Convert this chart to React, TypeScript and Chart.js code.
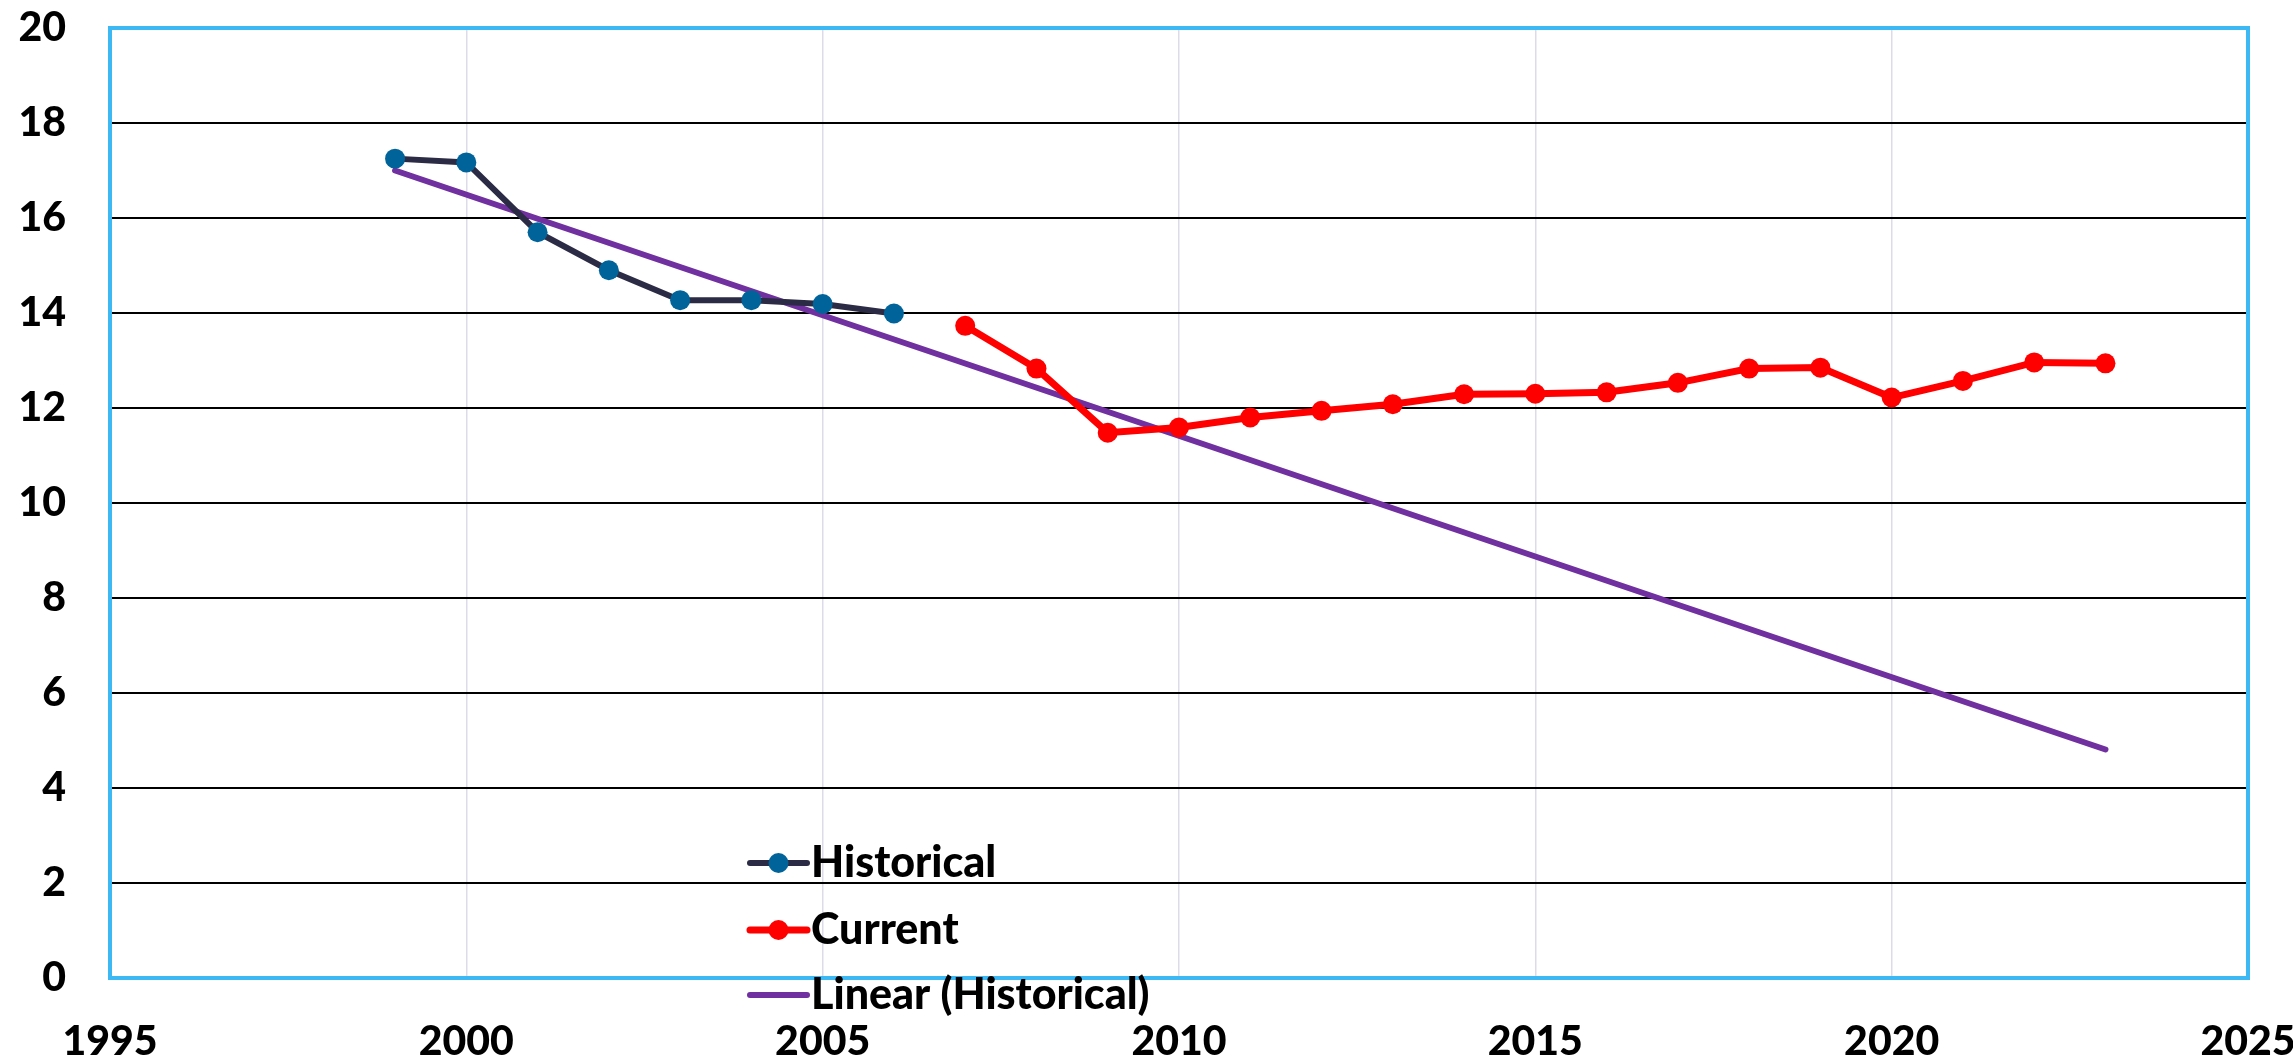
import React, { useEffect, useRef } from "react";
import { Chart, registerables } from "chart.js";

Chart.register(...registerables);

// ---- Data ----
const historicalYears = [1999, 2000, 2001, 2002, 2003, 2004, 2005, 2006];
const historicalValues = [17.25, 17.17, 15.7, 14.9, 14.27, 14.27, 14.19, 13.99];

const currentYears = [2007, 2008, 2009, 2010, 2011, 2012, 2013, 2014, 2015, 2016, 2017, 2018, 2019, 2020, 2021, 2022, 2023];
const currentValues = [13.73, 12.83, 11.48, 11.59, 11.8, 11.94, 12.08, 12.29, 12.3, 12.33, 12.53, 12.83, 12.85, 12.22, 12.57, 12.96, 12.94];

const trendYears = [1999, 2023];
const trendValues = [17.0, 4.81];

const xTickValues = [1995, 2000, 2005, 2010, 2015, 2020, 2025];
const yTickValues = [0, 2, 4, 6, 8, 10, 12, 14, 16, 18, 20];

const seriesLabels = ["Historical", "Current", "Linear (Historical)"];

const FONT = "Lato, 'Open Sans', sans-serif";
const WEIGHT = 900;

const toPoints = (xs: number[], ys: number[]) => xs.map((x, i) => ({ x, y: ys[i] }));

const framePlugin = {
  id: "frame",
  beforeDatasetsDraw(chart: any) {
    const { ctx, chartArea } = chart;
    const { left, top, right, bottom } = chartArea;
    ctx.save();
    ctx.strokeStyle = "#3cb9f5";
    ctx.lineWidth = 4;
    ctx.strokeRect(left, top, right - left, bottom - top);
    ctx.restore();
  },
};

const legendPlugin = {
  id: "customLegend",
  afterDraw(chart: any) {
    const { ctx } = chart;
    const x0 = 750;
    const x1 = 807;
    const textX = 811;
    const rows = [863, 930, 995];
    ctx.save();
    chart.data.datasets.forEach((ds: any, i: number) => {
      const y = rows[i];
      ctx.strokeStyle = ds.borderColor;
      ctx.lineWidth = ds.borderWidth;
      ctx.lineCap = "round";
      ctx.beginPath();
      ctx.moveTo(x0, y);
      ctx.lineTo(x1, y);
      ctx.stroke();
      if (ds.pointRadius > 0) {
        ctx.fillStyle = ds.pointBackgroundColor;
        ctx.beginPath();
        ctx.arc((x0 + x1) / 2, y, 10, 0, Math.PI * 2);
        ctx.fill();
      }
      ctx.fillStyle = "#000";
      ctx.font = `${WEIGHT} 43px ${FONT}`;
      ctx.textBaseline = "middle";
      ctx.textAlign = "left";
      ctx.fillText(ds.label, textX, y);
    });
    ctx.restore();
  },
};

export default function App() {
  const canvasRef = useRef<HTMLCanvasElement | null>(null);

  useEffect(() => {
    if (!canvasRef.current) return;
    const chart = new Chart(canvasRef.current, {
      type: "line",
      data: {
        datasets: [
          {
            label: seriesLabels[0],
            data: toPoints(historicalYears, historicalValues),
            borderColor: "#2b2b45",
            borderWidth: 6,
            pointRadius: 10,
            pointBackgroundColor: "#00649a",
            pointBorderColor: "#00649a",
            pointBorderWidth: 0,
            tension: 0,
          },
          {
            label: seriesLabels[1],
            data: toPoints(currentYears, currentValues),
            borderColor: "#ff0000",
            borderWidth: 7,
            pointRadius: 10,
            pointBackgroundColor: "#ff0000",
            pointBorderColor: "#ff0000",
            pointBorderWidth: 0,
            tension: 0,
          },
          {
            label: seriesLabels[2],
            data: toPoints(trendYears, trendValues),
            borderColor: "#7030a0",
            borderWidth: 6,
            borderCapStyle: "round",
            pointRadius: 0,
            pointBackgroundColor: "#7030a0",
            tension: 0,
          },
        ],
      },
      options: {
        animation: false,
        responsive: true,
        maintainAspectRatio: false,
        layout: { padding: { top: 28, right: 45, left: 0, bottom: 0 } },
        plugins: {
          legend: { display: false },
          tooltip: { enabled: false },
        },
        scales: {
          x: {
            type: "linear",
            min: 1995,
            max: 2025,
            afterBuildTicks: (scale: any) => {
              scale.ticks = xTickValues.map((v) => ({ value: v }));
            },
            afterFit: (scale: any) => {
              scale.height = 83;
              scale.paddingLeft = 0;
              scale.paddingRight = 0;
            },
            ticks: {
              color: "#000",
              font: { family: FONT, size: 41, weight: WEIGHT },
              padding: 39,
              maxRotation: 0,
              autoSkip: false,
              callback: (v: any) => String(v),
            },
            grid: {
              color: "#dcdce8",
              lineWidth: 1.5,
              drawTicks: false,
            },
            border: { display: false },
          },
          y: {
            type: "linear",
            min: 0,
            max: 20,
            afterBuildTicks: (scale: any) => {
              scale.ticks = yTickValues.map((v) => ({ value: v }));
            },
            afterFit: (scale: any) => {
              scale.width = 110;
              scale.paddingTop = 0;
              scale.paddingBottom = 0;
            },
            ticks: {
              color: "#000",
              font: { family: FONT, size: 41, weight: WEIGHT },
              padding: 44,
              autoSkip: false,
              callback: (v: any) => String(v),
            },
            grid: {
              color: "#000",
              lineWidth: 2,
              drawTicks: false,
            },
            border: { display: false },
          },
        },
      },
      plugins: [framePlugin, legendPlugin],
    });
    return () => chart.destroy();
  }, []);

  return (
    <div style={{ position: "fixed", left: 0, top: 0, width: 2293, height: 1061, background: "#fff" }}>
      <canvas ref={canvasRef} />
    </div>
  );
}
